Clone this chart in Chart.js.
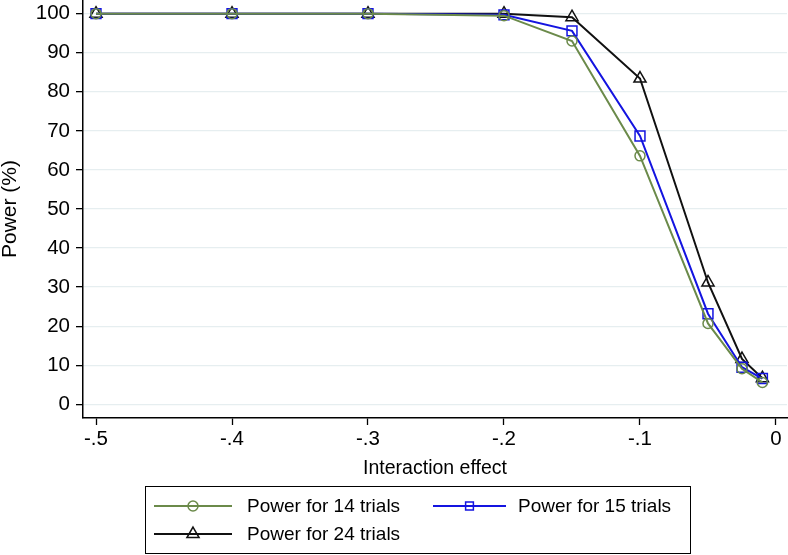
<!DOCTYPE html>
<html>
<head>
<meta charset="utf-8">
<script src="https://cdn.jsdelivr.net/npm/chart.js@4.4.0/dist/chart.umd.min.js"></script>
<style>
  html, body { margin: 0; padding: 0; background: #fff; }
  #wrap { width: 788px; height: 555px; }
</style>
</head>
<body>
<div id="wrap"><canvas id="grafico" width="788" height="555"></canvas></div>
<script>
// ─── Datos ────────────────────────────────────────
const efectos   = [-0.5, -0.4, -0.3, -0.2, -0.15, -0.1, -0.05, -0.025, -0.01];
const poder14   = [100, 100, 100, 99.5, 93.0, 63.6, 20.7, 9.1, 5.6];
const poder15   = [100, 100, 100, 99.7, 95.6, 68.7, 23.2, 9.5, 6.6];
const poder24   = [100, 100, 100, 100, 99.1, 83.4, 31.2, 11.6, 6.7];
const ticksX    = [-0.5, -0.4, -0.3, -0.2, -0.1, 0];
const etiquetasX= ['-.5', '-.4', '-.3', '-.2', '-.1', '0'];
const ticksY    = [0, 10, 20, 30, 40, 50, 60, 70, 80, 90, 100];
const nombres   = ['Power for 14 trials', 'Power for 15 trials', 'Power for 24 trials'];

// ─── Estilo ───────────────────────────────────────
const fuente    = '"Liberation Sans", Arial, Helvetica, sans-serif';
const colorVerde= '#6b8a4a';
const colorAzul = '#1414e0';
const colorNegro= '#111111';
const colorGrid = '#e6eef0';

function serie(nombre, valores, color, estilo, radio, radioLeyenda) {
  return {
    label: nombre,
    data: efectos.map((x, i) => ({ x: x, y: valores[i] })),
    borderColor: color,
    backgroundColor: 'rgba(0,0,0,0)',
    pointBorderColor: color,
    pointBackgroundColor: 'rgba(0,0,0,0)',
    pointStyle: estilo,
    pointRadius: radio,
    pointBorderWidth: 1.5,
    borderWidth: 2,
    tension: 0,
    fill: false,
    radioLeyenda: radioLeyenda
  };
}

// Leyenda dibujada a mano (dos columnas, con recuadro)
const leyendaPlugin = {
  id: 'leyendaStata',
  afterDraw(chart) {
    const c = chart.ctx;
    c.save();
    c.strokeStyle = '#000';
    c.lineWidth = 1;
    c.strokeRect(145.5, 486.5, 545, 67);

    const items = [
      { ds: 0, x0: 154, x1: 232, tx: 247, y: 506 },
      { ds: 1, x0: 433, x1: 506, tx: 518, y: 506 },
      { ds: 2, x0: 154, x1: 232, tx: 247, y: 534 }
    ];
    items.forEach(it => {
      const ds = chart.data.datasets[it.ds];
      c.strokeStyle = ds.borderColor;
      c.lineWidth = 2;
      c.beginPath();
      c.moveTo(it.x0, it.y);
      c.lineTo(it.x1, it.y);
      c.stroke();
      c.fillStyle = 'rgba(0,0,0,0)';
      c.lineWidth = 1.5;
      Chart.helpers.drawPoint(c, {
        pointStyle: ds.pointStyle,
        radius: ds.radioLeyenda,
        borderWidth: 1.5,
        rotation: 0
      }, (it.x0 + it.x1) / 2, it.y);
      c.fillStyle = '#000';
      c.font = '19px ' + fuente;
      c.textBaseline = 'middle';
      c.textAlign = 'left';
      c.fillText(ds.label, it.tx, it.y + 1);
    });
    c.restore();
  }
};

// ─── Gráfico ──────────────────────────────────────
const ctx = document.getElementById('grafico').getContext('2d');

new Chart(ctx, {
  type: 'line',
  data: {
    datasets: [
      serie(nombres[0], poder14, colorVerde, 'circle', 5, 5),
      serie(nombres[1], poder15, colorAzul, 'rect', 7, 5.5),
      serie(nombres[2], poder24, colorNegro, 'triangle', 7, 7)
    ]
  },
  options: {
    responsive: false,
    animation: false,
    layout: { autoPadding: false, padding: { left: 0, right: 1, top: 0, bottom: 75 } },
    plugins: {
      legend: { display: false },
      tooltip: { enabled: false }
    },
    scales: {
      x: {
        type: 'linear',
        min: -0.50956,
        max: 0.00809,
        afterBuildTicks: s => { s.ticks = ticksX.map(v => ({ value: v })); },
        afterFit: s => { s.height = 62; s.paddingLeft = 0; s.paddingRight = 0; },
        ticks: {
          color: '#000',
          font: { size: 20.5, family: fuente },
          padding: 2,
          maxRotation: 0,
          autoSkip: false,
          callback: v => {
            const i = ticksX.findIndex(t => Math.abs(t - v) < 1e-9);
            return i >= 0 ? etiquetasX[i] : '';
          }
        },
        grid: { drawOnChartArea: false, tickLength: 7, tickColor: '#000', tickWidth: 1.3 },
        border: { color: '#000', width: 1.5 },
        title: {
          display: true,
          text: 'Interaction effect',
          color: '#000',
          font: { size: 19.5, family: fuente },
          padding: { top: 0, bottom: 0 }
        }
      },
      y: {
        min: -3.5,
        max: 103.5,
        afterBuildTicks: s => { s.ticks = ticksY.map(v => ({ value: v })); },
        afterFit: s => { s.width = 83; s.paddingTop = 0; s.paddingBottom = 0; },
        ticks: {
          color: '#000',
          font: { size: 20.5, family: fuente },
          padding: 6,
          callback: v => String(v)
        },
        grid: { color: colorGrid, lineWidth: 1.3, tickLength: 7, tickColor: '#000', tickWidth: 1.3 },
        border: { color: '#000', width: 1.5 },
        title: {
          display: true,
          text: 'Power (%)',
          color: '#000',
          font: { size: 21, family: fuente, lineHeight: 1.0 },
          padding: { top: 0, bottom: 0 }
        }
      }
    }
  },
  plugins: [leyendaPlugin]
});
</script>
</body>
</html>
